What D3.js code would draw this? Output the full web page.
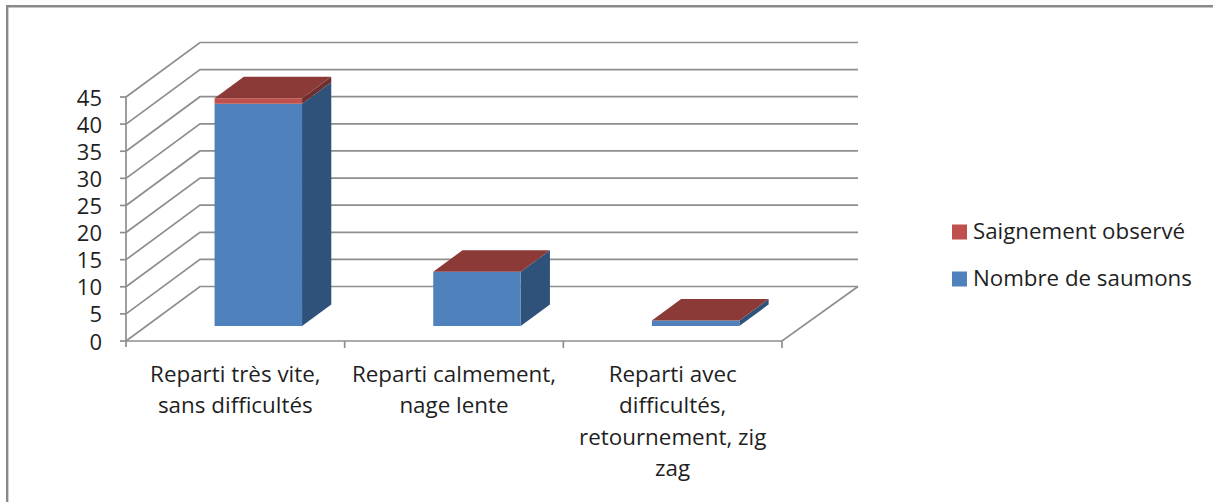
<!DOCTYPE html>
<html><head><meta charset="utf-8">
<script src="https://cdn.jsdelivr.net/npm/d3@7/dist/d3.min.js"></script>
<style>html,body{margin:0;padding:0;background:#fff}svg{display:block}text{font-family:"Open Sans","Noto Sans",sans-serif;fill:#1f1f1f}</style>
</head><body><svg id="c" width="1213" height="502"></svg>
<script>
const categories = [
  ["Reparti très vite,","sans difficultés"],
  ["Reparti calmement,","nage lente"],
  ["Reparti avec","difficultés,","retournement, zig","zag"]
];
const saumons = [41, 10, 1];
const saignement = [1, 0, 0];
const yTicks = [0,5,10,15,20,25,30,35,40,45];
const legendLabels = ["Saignement observé","Nombre de saumons"];

const svg = d3.select("#c");
const gridC="#8e8e8e";
const y = d3.scaleLinear().domain([0,45]).range([341,97]);
const x = d3.scaleBand().domain(d3.range(3)).range([126,782]).paddingInner(0.6).paddingOuter(0.3).align(0.52);
const dx=74, dy=-54.5;
const P=(px,py,d)=>[px+dx*d,py+dy*d];
const line=d3.line();

svg.append("path").attr("d","M7.2,502V6.2H1213").attr("fill","none").attr("stroke","#8a8a8a").attr("stroke-width",2.4);

// walls
const g=svg.append("g").attr("fill","none").attr("stroke",gridC).attr("stroke-width",1.7);
yTicks.forEach(t=>{
  g.append("path").attr("d",line([[126,y(t)],P(126,y(t),1),[858,y(t)+dy]]));
  g.append("line").attr("x1",120).attr("x2",126).attr("y1",y(t)).attr("y2",y(t));
});
g.append("path").attr("d",line([[126,y(45)],[126,y(0)+6]]));
g.append("path").attr("d",line([[126,y(0)],[782,y(0)],[858,y(0)+dy]]));
[1,2,3].forEach(i=>{const v=126+i*(782-126)/3;g.append("line").attr("x1",v).attr("x2",v).attr("y1",y(0)).attr("y2",y(0)+7);});

// bars
const d0=0.275,d1=0.67;
const blue="#4f81bd",blueS="#2f527b",red="#c0504d",redT="#8b3a38",redS="#6e2f2e";
const poly=(pts,f)=>svg.append("polygon").attr("points",pts.map(p=>p.join(",")).join(" ")).attr("fill",f);
categories.forEach((c,i)=>{
  const xa=x(i), xb=x(i)+x.bandwidth();
  const y0=y(0), y1=y(saumons[i]), y2=y(saumons[i]+saignement[i]);
  poly([P(xb,y0,d0),P(xb,y0,d1),P(xb,y1,d1),P(xb,y1,d0)],blueS);
  poly([P(xa,y0,d0),P(xb,y0,d0),P(xb,y1,d0),P(xa,y1,d0)],blue);
  if(saignement[i]>0){
    poly([P(xb,y1,d0),P(xb,y1,d1),P(xb,y2,d1),P(xb,y2,d0)],redS);
    poly([P(xa,y1,d0),P(xb,y1,d0),P(xb,y2,d0),P(xa,y2,d0)],red);
  }
  poly([P(xa,y2,d0),P(xb,y2,d0),P(xb,y2,d1),P(xa,y2,d1)],redT);
});

// y labels
svg.append("g").selectAll("text").data(yTicks).join("text")
  .attr("x",102).attr("y",t=>y(t)+8.5).attr("text-anchor","end").attr("font-size",22).text(t=>t);

// category labels
categories.forEach((c,i)=>{
  const cx=126+(i+.5)*(782-126)/3;
  const t=svg.append("text").attr("text-anchor","middle").attr("font-size",22.4);
  c.forEach((s,j)=>t.append("tspan").attr("x",cx).attr("y",382+j*31.3).text(s));
});

// legend
const ly=[232,279], lc=[red,blue];
legendLabels.forEach((s,i)=>{
  svg.append("rect").attr("x",952).attr("y",ly[i]-7.5).attr("width",15).attr("height",15).attr("fill",lc[i]);
  svg.append("text").attr("x",973).attr("y",ly[i]+6.5).attr("font-size",22.3).text(s);
});
</script></body></html>
